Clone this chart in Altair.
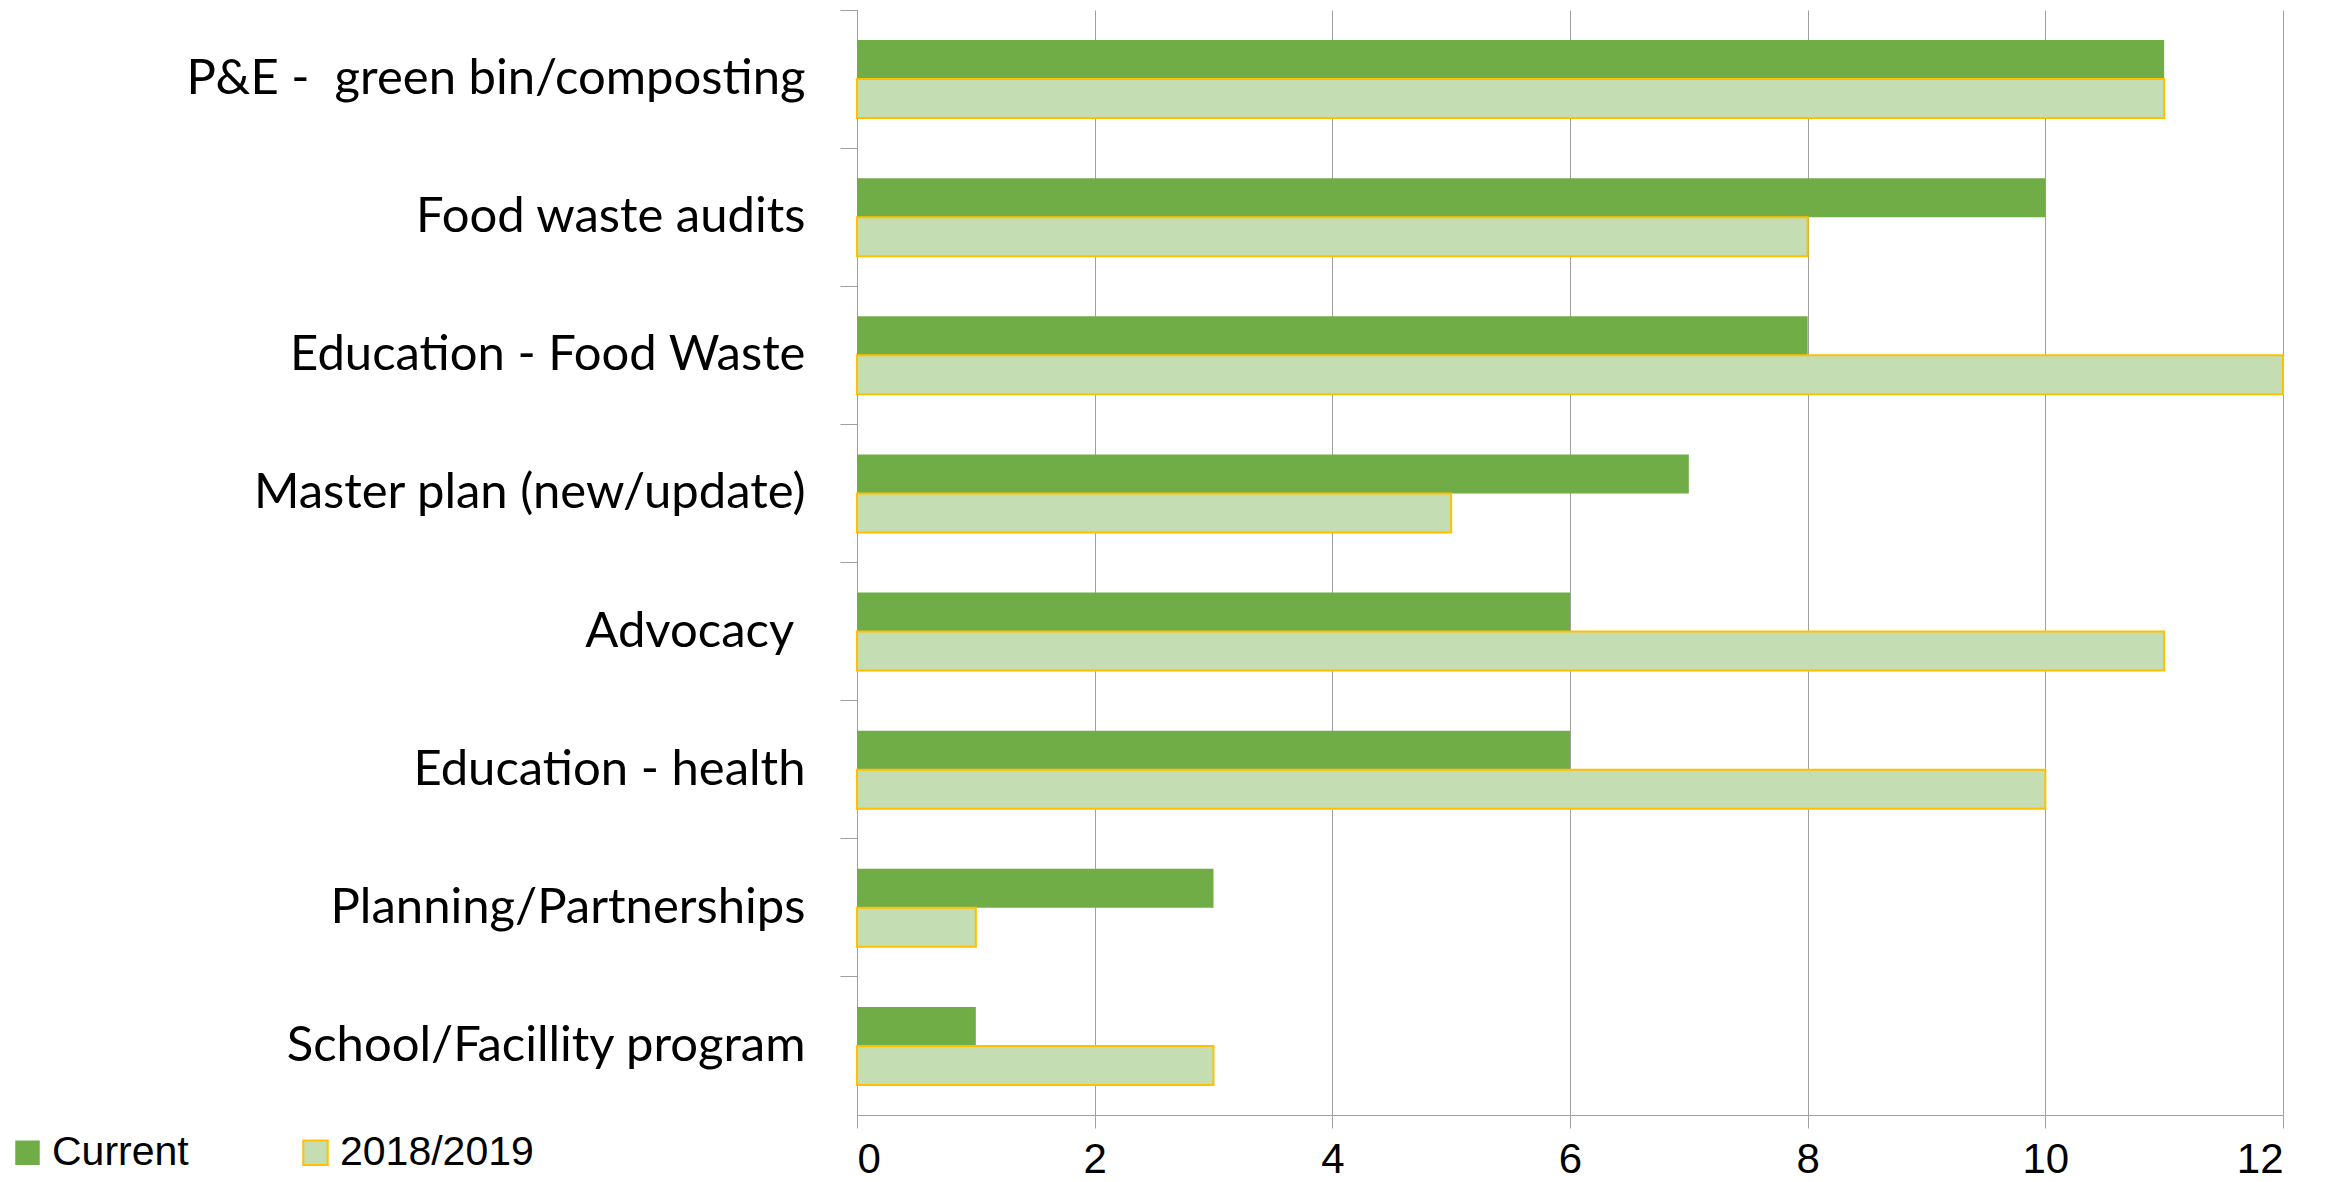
import altair as alt
import pandas as pd

categories = [
    "P&E - \u00a0green bin/composting",
    "Food waste audits",
    "Education - Food Waste",
    "Master plan (new/update)",
    "Advocacy\u00a0\u200d",
    "Education - health",
    "Planning/Partnerships",
    "School/Facillity program",
]
current = [11, 10, 8, 7, 6, 6, 3, 1]
prior = [11, 8, 12, 5, 11, 10, 1, 3]
series = ["Current", "2018/2019"]
x_ticks = [0, 2, 4, 6, 8, 10, 12]

rows = []
for c, a, b in zip(categories, current, prior):
    rows.append({"category": c, "series": series[0], "value": a})
    rows.append({"category": c, "series": series[1], "value": b})
df = pd.DataFrame(rows)

GREEN = "#70AD47"
HATCH = "#C4DDB3"
GOLD = "#FFC000"
GRID = "#A0A0A0"

chart = (
    alt.Chart(df)
    .mark_bar(strokeWidth=2)
    .encode(
        x=alt.X(
            "value:Q",
            scale=alt.Scale(domain=[0, 12], nice=False, zero=True),
            axis=alt.Axis(
                values=x_ticks, title=None, grid=True, gridColor=GRID, gridWidth=1,
                domainColor=GRID, tickColor=GRID, tickSize=13,
                labelFont="Liberation Sans", labelFontSize=42, labelColor="#000000",
                labelBaseline="alphabetic", labelPadding=44, format="d",
            ),
        ),
        y=alt.Y(
            "category:N", sort=categories,
            scale=alt.Scale(paddingInner=0, paddingOuter=0),
            axis=alt.Axis(
                title=None, bandPosition=0, labelOffset=0, ticks=True, tickSize=17,
                tickColor=GRID, domainColor=GRID, labelFont="Lato", labelFontSize=49,
                labelColor="#000000", labelPadding=35, labelLimit=1200, grid=False,
            ),
        ),
        yOffset=alt.YOffset(
            "series:N", sort=series,
            scale=alt.Scale(domain=series, paddingInner=0, paddingOuter=0.7708),
        ),
        fill=alt.Fill(
            "series:N", sort=series,
            scale=alt.Scale(domain=series, range=[GREEN, HATCH]),
            legend=alt.Legend(title=None),
        ),
        stroke=alt.Stroke(
            "series:N", sort=series,
            scale=alt.Scale(domain=series, range=["transparent", GOLD]),
            legend=alt.Legend(title=None),
        ),
    )
    .properties(
        width=1426, height=1105,
        autosize=alt.AutoSizeParams(type="none"),
        padding={"left": 849, "top": 2, "right": 40, "bottom": 59},
        background="white",
    )
    .configure_view(stroke=None)
    .configure_legend(
        orient="none", legendX=-850, legendY=1122, direction="horizontal",
        labelFont="Liberation Sans", labelFontSize=41, labelColor="#000000",
        symbolType="square", symbolSize=600, symbolStrokeWidth=2,
        columnPadding=106, labelOffset=4, labelLimit=400,
    )
)

chart.save("out.html", embed_options={"renderer": "svg", "actions": False})
